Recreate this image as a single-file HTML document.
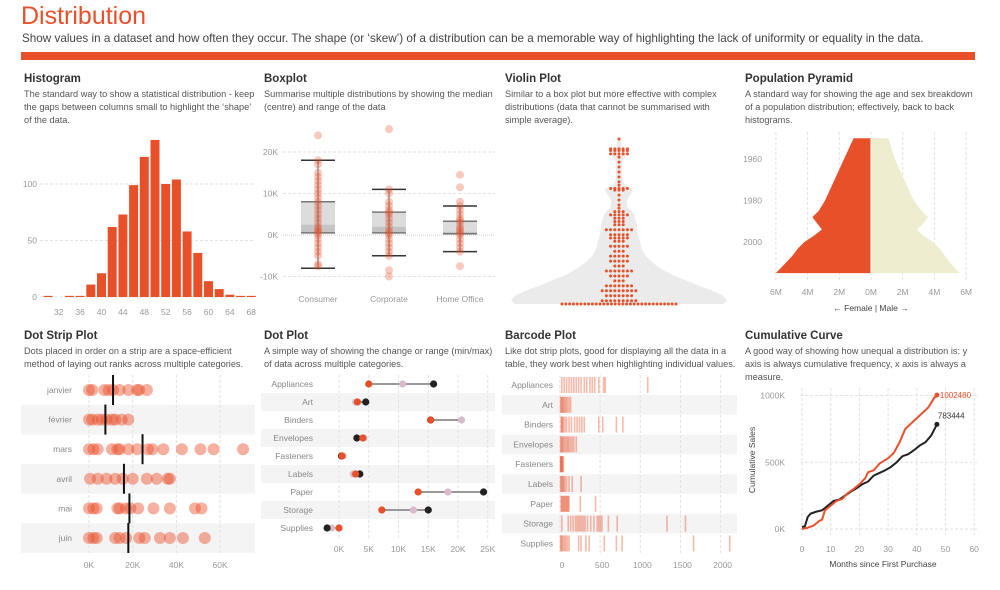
<!DOCTYPE html>
<html><head><meta charset="utf-8">
<style>
*{margin:0;padding:0;box-sizing:border-box}
body{width:1000px;height:590px;background:#fff;font-family:"Liberation Sans",sans-serif;position:relative;overflow:hidden;color:#333}
.t{position:absolute;white-space:nowrap}
.title{left:21px;top:2px;font-size:25px;color:#E8502A}
.sub{left:22px;top:32px;font-size:11.7px;color:#444}
.bar{position:absolute;left:21px;top:52px;width:954px;height:8px;background:#E8502A}
.pt{position:absolute;font-size:11.5px;font-weight:bold;color:#333}
.pd{position:absolute;font-size:9.2px;line-height:13px;color:#555;width:232px}
svg{position:absolute;left:0;top:0}
</style></head><body>
<div class="t title">Distribution</div>
<div class="t sub">Show values in a dataset and how often they occur. The shape (or ‘skew’) of a distribution can be a memorable way of highlighting the lack of uniformity or equality in the data.</div>
<div class="bar"></div>

<div class="pt" style="left:24px;top:73px">Histogram</div>
<div class="pd" style="left:24px;top:88px">The standard way to show a statistical distribution - keep the gaps between columns small to highlight the ‘shape’ of the data.</div>
<div class="pt" style="left:264px;top:73px">Boxplot</div>
<div class="pd" style="left:264px;top:88px">Summarise multiple distributions by showing the median (centre) and range of the data</div>
<div class="pt" style="left:505px;top:73px">Violin Plot</div>
<div class="pd" style="left:505px;top:88px;width:215px">Similar to a box plot but more effective with complex distributions (data that cannot be summarised with simple average).</div>
<div class="pt" style="left:745px;top:73px">Population Pyramid</div>
<div class="pd" style="left:745px;top:88px">A standard way for showing the age and sex breakdown of a population distribution; effectively, back to back histograms.</div>

<div class="pt" style="left:24px;top:330px">Dot Strip Plot</div>
<div class="pd" style="left:24px;top:345px;width:225px">Dots placed in order on a strip are a space-efficient method of laying out ranks across multiple categories.</div>
<div class="pt" style="left:264px;top:330px">Dot Plot</div>
<div class="pd" style="left:264px;top:345px">A simple way of showing the change or range (min/max) of data across multiple categories.</div>
<div class="pt" style="left:505px;top:330px">Barcode Plot</div>
<div class="pd" style="left:505px;top:345px">Like dot strip plots, good for displaying all the data in a table, they work best when highlighting individual values.</div>
<div class="pt" style="left:745px;top:330px">Cumulative Curve</div>
<div class="pd" style="left:745px;top:345px;width:225px">A good way of showing how unequal a distribution is: y axis is always cumulative frequency, x axis is always a measure.</div>

<svg id="chart" width="1000" height="590"></svg>

<script>
// ---------- DATA ----------
const histBins = [30,32,34,36,38,40,42,44,46,48,50,52,54,56,58,60,62,64,66,68];
const histCounts = [1,0,1,1,11,21,62,73,99,124,139,100,104,58,39,14,7,2,1,1];
const histXTicks = [32,36,40,44,48,52,56,60,64,68];
const histYTicks = [0,50,100];

const boxCats = ["Consumer","Corporate","Home Office"];
const boxWhiskerHi = [18,11,7];
const boxWhiskerLo = [-8,-5,-4];
const boxQ3 = [8,5.5,3.3];
const boxMed = [2.5,2,0.8];
const boxQ1 = [0.5,0.5,0.3];
const boxDotsConsumer = [24,18,17,15,14,13,12,11,10,9,8,7,6,5,4,3,2,1.5,1,0.5,0,-1,-2,-3,-4,-5,-7,-7.5];
const boxDotsCorporate = [25.5,11,10,8,7,6,5.5,5,4,3,2,1,0.5,0,-1,-2,-3,-4,-5,-8.5,-10];
const boxDotsHome = [14.5,11.5,8,7,6,5,4,3.5,3,2,1.5,1,0.5,0,-1,-2,-3,-4,-7.5];
const boxYTicks = [-10,0,10,20];

const violinLevels = [100,99,94,93,91,89,86,83,80,77,74,72,70,69,66,63,60,58,56,54,52,50,48,45,42,40,38,35,32,29,26,23,20,17,14,11,8,5,2,0];
const violinCounts = [1,0,5,5,5,1,1,1,1,1,1,1,5,3,1,1,1,1,3,5,3,3,3,7,5,5,3,5,3,5,5,3,7,5,3,7,9,7,9,31];
const violinHalfW = [1,2,3,6,8,6,3,3,3,3,4,6,13,14,11,8,8,9,13,15,16,17,18,18,19,20,21,22,24,27,32,38,46,56,68,80,94,104,108,104];

const pyrYears = [1950,1955,1960,1965,1970,1975,1980,1985,1988,1991,1994,1997,2000,2003,2007,2011,2015];
const pyrFemale = [1.1,1.4,1.7,2.0,2.3,2.6,2.9,3.3,3.7,3.4,3.1,3.6,4.2,4.6,5.0,5.5,6.0];
const pyrMale = [1.1,1.3,1.5,1.8,2.1,2.4,2.7,3.2,3.6,3.3,2.9,3.3,3.9,4.3,4.7,5.1,5.6];
const pyrXTicks = [-6,-4,-2,0,2,4,6];
const pyrYTicks = [1960,1980,2000];

const stripMonths = ["janvier","février","mars","avril","mai","juin"];
const stripJan = [0,1.5,7,9,11,14,18,22,23,26.5];
const stripFeb = [0,1.5,4,6,8,10.5,12,15,18];
const stripMar = [0,2,4,10.5,13,14,18,22,27,29,34,42.5,51,57,70.5];
const stripApr = [0.5,4,8,12,15.5,20,26.5,31,36,37];
const stripMay = [0,2,3.5,13,14,17,19,22.5,29.5,37,48.5,51.5];
const stripJun = [0,2,3.5,12,14,17,23,25.5,32.5,37,43,53];
const stripMedian = [11,7.5,24.5,16,18.5,18];
const stripXTicks = [0,20,40,60];

const dotCats = ["Appliances","Art","Binders","Envelopes","Fasteners","Labels","Paper","Storage","Supplies"];
const dotOrange = [5,3.1,15.4,4,0.5,2.8,13.3,7.2,0];
const dotPink = [10.7,2.8,20.6,4.2,0.7,2.4,18.3,12.5,-1.2];
const dotBlack = [15.9,4.5,15.4,3,0.4,3.5,24.3,15,-2];
const dotXTicks = [0,5,10,15,20,25];

const barCats = ["Appliances","Art","Binders","Envelopes","Fasteners","Labels","Paper","Storage","Supplies"];
const barAppliances = [20,50,80,110,140,170,200,230,260,300,330,370,400,430,480,540,560,1090];
const barArt = [5,15,25,35,45,60,75,90,110,130];
const barBinders = [10,20,30,40,60,80,110,140,180,210,240,270,300,480,530,700,780];
const barEnvelopes = [5,15,25,35,50,65,80,95,110,130,150,170,200];
const barFasteners = [3,8,12,18,25,30,40];
const barLabels = [5,15,25,35,45,60,80,110,150,260];
const barPaper = [10,20,30,40,50,60,70,80,90,100,110,250,440];
const barStorage = [20,100,130,160,190,210,230,250,270,290,310,340,380,420,460,480,500,520,600,710,1330,1560];
const barSupplies = [5,15,25,40,55,70,90,110,230,260,320,360,550,700,770,1660,2110];
const barXTicks = [0,500,1000,1500,2000];

const cumMonthsA = [0,2,4,6,7,8,10,12,14,16,18,20,22,23,25,27,30,32,34,36,38,40,42,44,46,47];
const cumSalesA = [0,10,25,60,70,140,175,210,225,270,300,335,380,425,440,490,530,570,650,750,790,830,870,910,980,1002.48];
const cumMonthsB = [0,1,2,3,5,7,9,11,13,15,17,19,21,23,25,27,29,31,33,35,37,39,41,43,45,47];
const cumSalesB = [15,20,90,115,130,140,175,210,220,250,280,305,335,355,400,420,440,465,500,545,560,590,625,650,700,783.444];
const cumXTicks = [0,10,20,30,40,50,60];
const cumYTicks = [0,500,1000];

// ---------- HELPERS ----------
const NS="http://www.w3.org/2000/svg";
const svg=document.getElementById('chart');
const OR="#E8502A", AX="#999", GRID="#e2e2e2";
function mk(tag,attrs,parent){const e=document.createElementNS(NS,tag);for(const k in attrs)e.setAttribute(k,attrs[k]);(parent||svg).appendChild(e);return e;}
function txt(x,y,s,anchor,size,fill,parent){const e=mk('text',{x:x,y:y,'text-anchor':anchor||'middle','font-size':size||8.5,fill:fill||AX,'font-family':'Liberation Sans, sans-serif'},parent);e.textContent=s;return e;}
function grp(name){const g=mk('g',{});return g;}

// ---------- HISTOGRAM ----------
(function(){
 const g=grp('histogram-chart');
 const y=v=>297-v*1.13, x=b=>48+(b-30)/2*10.7;
 histYTicks.forEach(t=>{
  const l=mk('line',{x1:40,x2:255,y1:y(t),y2:y(t),stroke:GRID,'stroke-dasharray':'3,2'},g);
  
  
  const tx=txt(37,y(t)+3,String(t),'end',8.5,AX,g);
  
  
 });
 histBins.forEach((b,i)=>{
  const h=histCounts[i]*1.13;
  const r=mk('rect',{x:x(b)-4.5,y:297-h,width:9,height:h,fill:OR},g);
  
  
 });
 histXTicks.forEach(t=>{
  const tx=txt(x(t),315,String(t),'middle',8.5,AX,g);
  
  
 });
})();

// ---------- BOXPLOT ----------
(function(){
 const g=grp('boxplot-chart');
 const y=v=>235-v*4.15, cx=[318,389,460];
 boxYTicks.forEach(t=>{
  const l=mk('line',{x1:283,x2:495,y1:y(t),y2:y(t),stroke:t===0?'#ccc':GRID,'stroke-dasharray':t===0?'1,1':'3,2'},g);
  
  
  const tx=txt(278,y(t)+3,(t)+'K','end',8.5,AX,g);
  
  
 });
 const dots=[boxDotsConsumer,boxDotsCorporate,boxDotsHome];
 boxCats.forEach((c,i)=>{
  const up=mk('rect',{x:cx[i]-17,y:y(boxQ3[i]),width:34,height:y(boxMed[i])-y(boxQ3[i]),fill:'#dcdcdc'},g);
  
  
  const lo=mk('rect',{x:cx[i]-17,y:y(boxMed[i]),width:34,height:y(boxQ1[i])-y(boxMed[i]),fill:'#c4c4c4'},g);
  
  
  const v=mk('line',{x1:cx[i],x2:cx[i],y1:y(boxWhiskerHi[i]),y2:y(boxWhiskerLo[i]),stroke:'#666','stroke-width':1},g);
  
  
  [boxWhiskerHi[i],boxQ3[i],boxQ1[i],boxWhiskerLo[i]].forEach((w,k)=>{
   const cap=mk('line',{x1:cx[i]-17,x2:cx[i]+17,y1:y(w),y2:y(w),stroke:k===0||k===3?'#333':'#777','stroke-width':1.5},g);
   
   
  });
  dots[i].forEach(d=>{
   const c2=mk('circle',{cx:cx[i],cy:y(d),r:4,fill:OR,'fill-opacity':0.3},g);
   
   
  });
  const tx=txt(cx[i],302,c,'middle',8.5,AX,g);
  
  
 });
})();

// ---------- VIOLIN ----------
(function(){
 const g=grp('violin-chart');
 const y=v=>304-v*1.65, cx=619;
 let d='M'+(cx-violinHalfW[0])+','+y(violinLevels[0]);
 violinLevels.forEach((v,i)=>{d+=' L'+(cx+violinHalfW[i])+','+y(v);});
 for(let i=violinLevels.length-1;i>=0;i--){d+=' L'+(cx-violinHalfW[i])+','+y(violinLevels[i]);}
 const p=mk('path',{d:d+'Z',fill:'#ebebeb'},g);
 
 
 violinLevels.forEach((v,i)=>{
  const n=violinCounts[i];
  for(let k=0;k<n;k++){
   const off=(k-(n-1)/2)*(n>15?3.8:4.2);
   const c=mk('circle',{cx:cx+off,cy:y(v),r:1.5,fill:OR},g);
   
   
  }
 });
})();

// ---------- PYRAMID ----------
(function(){
 const g=grp('pyramid-chart');
 const y=yr=>159+(yr-1960)*2.075, x=m=>871+m*15.85;
 pyrXTicks.forEach(t=>{
  const l=mk('line',{x1:x(t),x2:x(t),y1:132,y2:280,stroke:GRID,'stroke-dasharray':'3,2'},g);
  
  
  const tx=txt(x(t),295,Math.abs(t)+'M','middle',8.5,AX,g);
  
  
 });
 pyrYTicks.forEach(t=>{
  const tx=txt(762,y(t)+3,String(t),'end',8.5,AX,g);
  
  
 });
 let df='M'+x(0)+','+y(pyrYears[0]), dm=df;
 pyrYears.forEach((yr,i)=>{df+=' L'+x(-pyrFemale[i])+','+y(yr);dm+=' L'+x(pyrMale[i])+','+y(yr);});
 df+=' L'+x(0)+','+y(pyrYears[pyrYears.length-1])+'Z';
 dm+=' L'+x(0)+','+y(pyrYears[pyrYears.length-1])+'Z';
 const f=mk('path',{d:df,fill:OR},g);
 
 
 const m=mk('path',{d:dm,fill:'#EEEDD0'},g);
 
 
 const c=mk('line',{x1:x(0),x2:x(0),y1:y(pyrYears[0]),y2:y(2015),stroke:'#fff','stroke-width':1},g);
 
 
 const lg=txt(871,311,'←      Female    |    Male      →','middle',8.5,'#444',g);
 
 
})();

// ---------- DOT STRIP ----------
(function(){
 const g=grp('dot-strip-chart');
 const x=v=>89+v*2.185, rowY=i=>390+i*29.6;
 const rows=[stripJan,stripFeb,stripMar,stripApr,stripMay,stripJun];
 stripMonths.forEach((m,i)=>{
  if(i%2===1){const b=mk('rect',{x:21,y:rowY(i)-14.8,width:234,height:29.6,fill:'#f4f4f4'},g);
   
   }
 });
 stripXTicks.forEach(t=>{
  const l=mk('line',{x1:x(t),x2:x(t),y1:375,y2:555,stroke:GRID,'stroke-dasharray':'3,2'},g);
  
  
  const tx=txt(x(t),568,t+'K','middle',8.5,AX,g);
  
  
 });
 stripMonths.forEach((m,i)=>{
  const tx=txt(72,rowY(i)+3,m,'end',8.5,'#888',g);
  
  
  rows[i].forEach(v=>{
   const c=mk('circle',{cx:x(v),cy:rowY(i),r:6,fill:OR,'fill-opacity':0.45},g);
   
   
  });
  const l=mk('line',{x1:x(stripMedian[i]),x2:x(stripMedian[i]),y1:rowY(i)-15,y2:rowY(i)+15,stroke:'#111','stroke-width':2},g);
  
  
 });
})();

// ---------- DOT PLOT ----------
(function(){
 const g=grp('dot-plot-chart');
 const x=v=>339+v*5.95, rowY=i=>384+i*18;
 dotCats.forEach((c,i)=>{
  if(i%2===1){const b=mk('rect',{x:261,y:rowY(i)-9,width:234,height:18,fill:'#f4f4f4'},g);
   
   }
 });
 dotXTicks.forEach(t=>{
  const l=mk('line',{x1:x(t),x2:x(t),y1:375,y2:538,stroke:GRID,'stroke-dasharray':'3,2'},g);
  
  
  const tx=txt(x(t),552,t+'K','middle',8.5,AX,g);
  
  
 });
 dotCats.forEach((c,i)=>{
  const tx=txt(313,rowY(i)+3,c,'end',8.5,'#888',g);
  
  
  const lo=Math.min(dotOrange[i],dotPink[i],dotBlack[i]), hi=Math.max(dotOrange[i],dotPink[i],dotBlack[i]);
  const l=mk('line',{x1:x(lo),x2:x(hi),y1:rowY(i),y2:rowY(i),stroke:'#999','stroke-width':2},g);
  
  
  [[dotPink,'#D9BCCB'],[dotBlack,'#222'],[dotOrange,OR]].forEach(([arr,col])=>{
   const d=mk('circle',{cx:x(arr[i]),cy:rowY(i),r:3.6,fill:col},g);
   
   
  });
 });
})();

// ---------- BARCODE ----------
(function(){
 const g=grp('barcode-chart');
 const x=v=>560+v*0.0803, rowY=i=>385+i*19.8;
 const rows=[barAppliances,barArt,barBinders,barEnvelopes,barFasteners,barLabels,barPaper,barStorage,barSupplies];
 barCats.forEach((c,i)=>{
  if(i%2===1){const b=mk('rect',{x:502,y:rowY(i)-9.9,width:235,height:19.8,fill:'#f4f4f4'},g);
   
   }
 });
 barXTicks.forEach(t=>{
  const l=mk('line',{x1:x(t),x2:x(t),y1:375,y2:555,stroke:GRID,'stroke-dasharray':'3,2'},g);
  
  
  const tx=txt(x(t)+2,568,String(t),'middle',8.5,AX,g);
  
  
 });
 barCats.forEach((c,i)=>{
  const tx=txt(553,rowY(i)+3,c,'end',8.5,'#888',g);
  
  
  rows[i].forEach(v=>{
   const r=mk('rect',{x:x(v)-0.6,y:rowY(i)-8,width:1.6,height:16,fill:OR,'fill-opacity':0.4},g);
   
   
  });
 });
})();

// ---------- CUMULATIVE ----------
(function(){
 const g=grp('cumulative-chart');
 const x=m=>802+m*2.87, y=v=>529-v*0.1335;
 cumYTicks.forEach(t=>{
  const l=mk('line',{x1:800,x2:977,y1:y(t),y2:y(t),stroke:GRID,'stroke-dasharray':'3,2'},g);
  
  
  const tx=txt(785,y(t)+3,t+'K','end',8.5,AX,g);
  
  
 });
 cumXTicks.forEach(t=>{
  const l=mk('line',{x1:x(t),x2:x(t),y1:388,y2:535,stroke:GRID,'stroke-dasharray':'3,2'},g);
  
  
  const tx=txt(x(t),552,String(t),'middle',8.5,AX,g);
  
  
 });
 const pb=mk('polyline',{points:cumMonthsB.map((m,i)=>x(m)+','+y(cumSalesB[i])).join(' '),fill:'none',stroke:'#222','stroke-width':2},g);
 
 
 const pa=mk('polyline',{points:cumMonthsA.map((m,i)=>x(m)+','+y(cumSalesA[i])).join(' '),fill:'none',stroke:OR,'stroke-width':2},g);
 
 
 const la=cumSalesA.length-1, lb=cumSalesB.length-1;
 const ea=mk('circle',{cx:x(cumMonthsA[la]),cy:y(cumSalesA[la]),r:2.5,fill:OR},g);
 
 
 const eb=mk('circle',{cx:x(cumMonthsB[lb]),cy:y(cumSalesB[lb]),r:2.5,fill:'#222'},g);
 
 
 const ta=txt(x(cumMonthsA[la])+3,y(cumSalesA[la])+3,String(Math.round(cumSalesA[la]*1000)),'start',8,OR,g);
 
 
 const tb=txt(x(cumMonthsB[lb])+1,y(cumSalesB[lb])-6,String(Math.round(cumSalesB[lb]*1000)),'start',8,'#333',g);
 
 
 const xt=txt(883,567,'Months since First Purchase','middle',8.5,'#444',g);
 
 
 const yt=txt(0,0,'Cumulative Sales','middle',8.5,'#444',g);
 yt.setAttribute('transform','translate(755,460) rotate(-90)');
 
 
})();
</script>
</body></html>
